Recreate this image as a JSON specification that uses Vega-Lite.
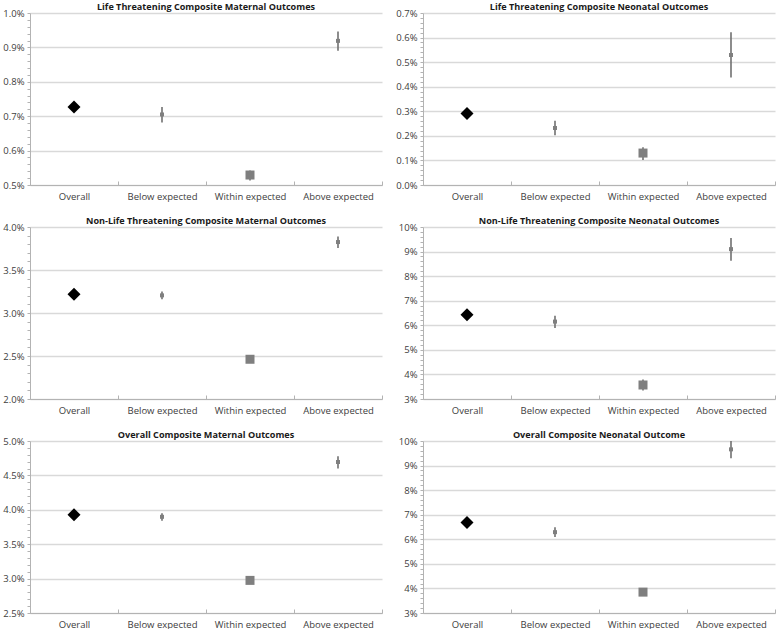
{
  "$schema": "https://vega.github.io/schema/vega-lite/v6.json",
  "background": "white",
  "padding": {"left": 2, "top": 2, "right": 0, "bottom": 0},
  "config": {
    "font": "Open Sans",
    "view": {"stroke": null},
    "concat": {"spacing": {"row": 15, "column": 12}},
    "title": {"font": "Open Sans", "fontSize": 9.1, "fontWeight": "bold", "color": "#1a1a1a", "anchor": "middle", "frame": "group", "offset": -4},
    "axis": {"labelFont": "Open Sans", "labelFontSize": 9.5, "labelColor": "#404040", "domainColor": "#b3b3b3", "tickColor": "#b3b3b3", "gridColor": "#d9d9d9", "gridWidth": 1.5, "title": null}
  },
  "data": {"values": [
    {"panel": "P1", "category": "Overall", "value": 0.727, "lo": 0.727, "hi": 0.727},
    {"panel": "P1", "category": "Below expected", "value": 0.705, "lo": 0.682, "hi": 0.727},
    {"panel": "P1", "category": "Within expected", "value": 0.529, "lo": 0.513, "hi": 0.542},
    {"panel": "P1", "category": "Above expected", "value": 0.919, "lo": 0.890, "hi": 0.946},
    {"panel": "P2", "category": "Overall", "value": 0.291, "lo": 0.291, "hi": 0.291},
    {"panel": "P2", "category": "Below expected", "value": 0.232, "lo": 0.202, "hi": 0.261},
    {"panel": "P2", "category": "Within expected", "value": 0.130, "lo": 0.102, "hi": 0.154},
    {"panel": "P2", "category": "Above expected", "value": 0.529, "lo": 0.438, "hi": 0.622},
    {"panel": "P3", "category": "Overall", "value": 3.219, "lo": 3.219, "hi": 3.219},
    {"panel": "P3", "category": "Below expected", "value": 3.205, "lo": 3.16, "hi": 3.25},
    {"panel": "P3", "category": "Within expected", "value": 2.462, "lo": 2.44, "hi": 2.48},
    {"panel": "P3", "category": "Above expected", "value": 3.825, "lo": 3.755, "hi": 3.89},
    {"panel": "P4", "category": "Overall", "value": 6.43, "lo": 6.43, "hi": 6.43},
    {"panel": "P4", "category": "Below expected", "value": 6.15, "lo": 5.89, "hi": 6.39},
    {"panel": "P4", "category": "Within expected", "value": 3.57, "lo": 3.35, "hi": 3.79},
    {"panel": "P4", "category": "Above expected", "value": 9.10, "lo": 8.63, "hi": 9.55},
    {"panel": "P5", "category": "Overall", "value": 3.927, "lo": 3.927, "hi": 3.927},
    {"panel": "P5", "category": "Below expected", "value": 3.898, "lo": 3.84, "hi": 3.95},
    {"panel": "P5", "category": "Within expected", "value": 2.974, "lo": 2.95, "hi": 3.0},
    {"panel": "P5", "category": "Above expected", "value": 4.695, "lo": 4.60, "hi": 4.78},
    {"panel": "P6", "category": "Overall", "value": 6.68, "lo": 6.68, "hi": 6.68},
    {"panel": "P6", "category": "Below expected", "value": 6.29, "lo": 6.09, "hi": 6.49},
    {"panel": "P6", "category": "Within expected", "value": 3.85, "lo": 3.78, "hi": 3.92},
    {"panel": "P6", "category": "Above expected", "value": 9.66, "lo": 9.30, "hi": 10.05}
  ]},
  "columns": 2,
  "concat": [
    {
      "title": "Life Threatening Composite Maternal Outcomes",
      "width": 352, "height": 172,
      "transform": [{"filter": "datum.panel == 'P1'"}],
      "encoding": {"x": {"field": "category", "type": "nominal", "sort": ["Overall", "Below expected", "Within expected", "Above expected"], "scale": {"paddingInner": 0, "paddingOuter": 0}, "axis": {"labelAngle": 0, "tickBand": "extent", "tickSize": -4, "labelPadding": 10, "grid": false}}},
      "layer": [
        {"transform": [{"filter": "datum.category != 'Overall'"}], "mark": {"type": "rule", "color": "#707070", "strokeWidth": 1.6, "clip": true},
         "encoding": {"y": {"field": "lo", "type": "quantitative", "scale": {"domain": [0.5, 1.0], "nice": false, "zero": false},
           "axis": {"values": [0.5,0.52,0.54,0.56,0.58,0.6,0.62,0.64,0.66,0.68,0.7,0.72,0.74,0.76,0.78,0.8,0.82,0.84,0.86,0.88,0.9,0.92,0.94,0.96,0.98,1.0], "tickCount": 500, "tickSize": 3, "labelOverlap": false, "labelPadding": 3,
             "labelExpr": "abs(datum.value*10 - round(datum.value*10)) < 0.001 ? format(datum.value, '.1f') + '%' : ''",
             "gridOpacity": {"condition": {"test": "abs(datum.value*10 - round(datum.value*10)) < 0.001", "value": 1}, "value": 0}}},
           "y2": {"field": "hi"}}},
        {"transform": [{"filter": "datum.category == 'Overall'"}], "mark": {"type": "point", "shape": "diamond", "filled": true, "color": "#000000", "opacity": 1, "size": 170}, "encoding": {"y": {"field": "value", "type": "quantitative"}}},
        {"transform": [{"filter": "datum.category == 'Within expected'"}], "mark": {"type": "point", "shape": "square", "filled": true, "color": "#7f7f7f", "opacity": 1, "size": 81}, "encoding": {"y": {"field": "value", "type": "quantitative"}}},
        {"transform": [{"filter": "datum.category == 'Below expected' || datum.category == 'Above expected'"}], "mark": {"type": "point", "shape": "square", "filled": true, "color": "#7f7f7f", "opacity": 1, "size": 16}, "encoding": {"y": {"field": "value", "type": "quantitative"}}}
      ]
    },
    {
      "title": "Life Threatening Composite Neonatal Outcomes",
      "width": 352, "height": 172,
      "transform": [{"filter": "datum.panel == 'P2'"}],
      "encoding": {"x": {"field": "category", "type": "nominal", "sort": ["Overall", "Below expected", "Within expected", "Above expected"], "scale": {"paddingInner": 0, "paddingOuter": 0}, "axis": {"labelAngle": 0, "tickBand": "extent", "tickSize": -4, "labelPadding": 10, "grid": false}}},
      "layer": [
        {"transform": [{"filter": "datum.category != 'Overall'"}], "mark": {"type": "rule", "color": "#707070", "strokeWidth": 1.6, "clip": true},
         "encoding": {"y": {"field": "lo", "type": "quantitative", "scale": {"domain": [0, 0.7], "nice": false, "zero": false},
           "axis": {"values": [0,0.02,0.04,0.06,0.08,0.1,0.12,0.14,0.16,0.18,0.2,0.22,0.24,0.26,0.28,0.3,0.32,0.34,0.36,0.38,0.4,0.42,0.44,0.46,0.48,0.5,0.52,0.54,0.56,0.58,0.6,0.62,0.64,0.66,0.68,0.7], "tickCount": 500, "tickSize": 3, "labelOverlap": false, "labelPadding": 3,
             "labelExpr": "abs(datum.value*10 - round(datum.value*10)) < 0.001 ? format(datum.value, '.1f') + '%' : ''",
             "gridOpacity": {"condition": {"test": "abs(datum.value*10 - round(datum.value*10)) < 0.001", "value": 1}, "value": 0}}},
           "y2": {"field": "hi"}}},
        {"transform": [{"filter": "datum.category == 'Overall'"}], "mark": {"type": "point", "shape": "diamond", "filled": true, "color": "#000000", "opacity": 1, "size": 170}, "encoding": {"y": {"field": "value", "type": "quantitative"}}},
        {"transform": [{"filter": "datum.category == 'Within expected'"}], "mark": {"type": "point", "shape": "square", "filled": true, "color": "#7f7f7f", "opacity": 1, "size": 81}, "encoding": {"y": {"field": "value", "type": "quantitative"}}},
        {"transform": [{"filter": "datum.category == 'Below expected' || datum.category == 'Above expected'"}], "mark": {"type": "point", "shape": "square", "filled": true, "color": "#7f7f7f", "opacity": 1, "size": 16}, "encoding": {"y": {"field": "value", "type": "quantitative"}}}
      ]
    },
    {
      "title": "Non-Life Threatening Composite Maternal Outcomes",
      "width": 352, "height": 172,
      "transform": [{"filter": "datum.panel == 'P3'"}],
      "encoding": {"x": {"field": "category", "type": "nominal", "sort": ["Overall", "Below expected", "Within expected", "Above expected"], "scale": {"paddingInner": 0, "paddingOuter": 0}, "axis": {"labelAngle": 0, "tickBand": "extent", "tickSize": -4, "labelPadding": 10, "grid": false}}},
      "layer": [
        {"transform": [{"filter": "datum.category != 'Overall'"}], "mark": {"type": "rule", "color": "#707070", "strokeWidth": 1.6, "clip": true},
         "encoding": {"y": {"field": "lo", "type": "quantitative", "scale": {"domain": [2.0, 4.0], "nice": false, "zero": false},
           "axis": {"values": [2,2.1,2.2,2.3,2.4,2.5,2.6,2.7,2.8,2.9,3,3.1,3.2,3.3,3.4,3.5,3.6,3.7,3.8,3.9,4], "tickCount": 500, "tickSize": 3, "labelOverlap": false, "labelPadding": 3,
             "labelExpr": "abs(datum.value*2 - round(datum.value*2)) < 0.001 ? format(datum.value, '.1f') + '%' : ''",
             "gridOpacity": {"condition": {"test": "abs(datum.value*2 - round(datum.value*2)) < 0.001", "value": 1}, "value": 0}}},
           "y2": {"field": "hi"}}},
        {"transform": [{"filter": "datum.category == 'Overall'"}], "mark": {"type": "point", "shape": "diamond", "filled": true, "color": "#000000", "opacity": 1, "size": 170}, "encoding": {"y": {"field": "value", "type": "quantitative"}}},
        {"transform": [{"filter": "datum.category == 'Within expected'"}], "mark": {"type": "point", "shape": "square", "filled": true, "color": "#7f7f7f", "opacity": 1, "size": 81}, "encoding": {"y": {"field": "value", "type": "quantitative"}}},
        {"transform": [{"filter": "datum.category == 'Below expected' || datum.category == 'Above expected'"}], "mark": {"type": "point", "shape": "square", "filled": true, "color": "#7f7f7f", "opacity": 1, "size": 16}, "encoding": {"y": {"field": "value", "type": "quantitative"}}}
      ]
    },
    {
      "title": "Non-Life Threatening Composite Neonatal Outcomes",
      "width": 352, "height": 172,
      "transform": [{"filter": "datum.panel == 'P4'"}],
      "encoding": {"x": {"field": "category", "type": "nominal", "sort": ["Overall", "Below expected", "Within expected", "Above expected"], "scale": {"paddingInner": 0, "paddingOuter": 0}, "axis": {"labelAngle": 0, "tickBand": "extent", "tickSize": -4, "labelPadding": 10, "grid": false}}},
      "layer": [
        {"transform": [{"filter": "datum.category != 'Overall'"}], "mark": {"type": "rule", "color": "#707070", "strokeWidth": 1.6, "clip": true},
         "encoding": {"y": {"field": "lo", "type": "quantitative", "scale": {"domain": [3, 10], "nice": false, "zero": false},
           "axis": {"values": [3,3.2,3.4,3.6,3.8,4,4.2,4.4,4.6,4.8,5,5.2,5.4,5.6,5.8,6,6.2,6.4,6.6,6.8,7,7.2,7.4,7.6,7.8,8,8.2,8.4,8.6,8.8,9,9.2,9.4,9.6,9.8,10], "tickCount": 500, "tickSize": 3, "labelOverlap": false, "labelPadding": 3,
             "labelExpr": "abs(datum.value - round(datum.value)) < 0.001 ? format(datum.value, '.0f') + '%' : ''",
             "gridOpacity": {"condition": {"test": "abs(datum.value - round(datum.value)) < 0.001", "value": 1}, "value": 0}}},
           "y2": {"field": "hi"}}},
        {"transform": [{"filter": "datum.category == 'Overall'"}], "mark": {"type": "point", "shape": "diamond", "filled": true, "color": "#000000", "opacity": 1, "size": 170}, "encoding": {"y": {"field": "value", "type": "quantitative"}}},
        {"transform": [{"filter": "datum.category == 'Within expected'"}], "mark": {"type": "point", "shape": "square", "filled": true, "color": "#7f7f7f", "opacity": 1, "size": 81}, "encoding": {"y": {"field": "value", "type": "quantitative"}}},
        {"transform": [{"filter": "datum.category == 'Below expected' || datum.category == 'Above expected'"}], "mark": {"type": "point", "shape": "square", "filled": true, "color": "#7f7f7f", "opacity": 1, "size": 16}, "encoding": {"y": {"field": "value", "type": "quantitative"}}}
      ]
    },
    {
      "title": "Overall Composite Maternal Outcomes",
      "width": 352, "height": 172,
      "transform": [{"filter": "datum.panel == 'P5'"}],
      "encoding": {"x": {"field": "category", "type": "nominal", "sort": ["Overall", "Below expected", "Within expected", "Above expected"], "scale": {"paddingInner": 0, "paddingOuter": 0}, "axis": {"labelAngle": 0, "tickBand": "extent", "tickSize": -4, "labelPadding": 10, "grid": false}}},
      "layer": [
        {"transform": [{"filter": "datum.category != 'Overall'"}], "mark": {"type": "rule", "color": "#707070", "strokeWidth": 1.6, "clip": true},
         "encoding": {"y": {"field": "lo", "type": "quantitative", "scale": {"domain": [2.5, 5.0], "nice": false, "zero": false},
           "axis": {"values": [2.5,2.6,2.7,2.8,2.9,3,3.1,3.2,3.3,3.4,3.5,3.6,3.7,3.8,3.9,4,4.1,4.2,4.3,4.4,4.5,4.6,4.7,4.8,4.9,5], "tickCount": 500, "tickSize": 3, "labelOverlap": false, "labelPadding": 3,
             "labelExpr": "abs(datum.value*2 - round(datum.value*2)) < 0.001 ? format(datum.value, '.1f') + '%' : ''",
             "gridOpacity": {"condition": {"test": "abs(datum.value*2 - round(datum.value*2)) < 0.001", "value": 1}, "value": 0}}},
           "y2": {"field": "hi"}}},
        {"transform": [{"filter": "datum.category == 'Overall'"}], "mark": {"type": "point", "shape": "diamond", "filled": true, "color": "#000000", "opacity": 1, "size": 170}, "encoding": {"y": {"field": "value", "type": "quantitative"}}},
        {"transform": [{"filter": "datum.category == 'Within expected'"}], "mark": {"type": "point", "shape": "square", "filled": true, "color": "#7f7f7f", "opacity": 1, "size": 81}, "encoding": {"y": {"field": "value", "type": "quantitative"}}},
        {"transform": [{"filter": "datum.category == 'Below expected' || datum.category == 'Above expected'"}], "mark": {"type": "point", "shape": "square", "filled": true, "color": "#7f7f7f", "opacity": 1, "size": 16}, "encoding": {"y": {"field": "value", "type": "quantitative"}}}
      ]
    },
    {
      "title": "Overall Composite Neonatal Outcome",
      "width": 352, "height": 172,
      "transform": [{"filter": "datum.panel == 'P6'"}],
      "encoding": {"x": {"field": "category", "type": "nominal", "sort": ["Overall", "Below expected", "Within expected", "Above expected"], "scale": {"paddingInner": 0, "paddingOuter": 0}, "axis": {"labelAngle": 0, "tickBand": "extent", "tickSize": -4, "labelPadding": 10, "grid": false}}},
      "layer": [
        {"transform": [{"filter": "datum.category != 'Overall'"}], "mark": {"type": "rule", "color": "#707070", "strokeWidth": 1.6, "clip": true},
         "encoding": {"y": {"field": "lo", "type": "quantitative", "scale": {"domain": [3, 10], "nice": false, "zero": false},
           "axis": {"values": [3,3.2,3.4,3.6,3.8,4,4.2,4.4,4.6,4.8,5,5.2,5.4,5.6,5.8,6,6.2,6.4,6.6,6.8,7,7.2,7.4,7.6,7.8,8,8.2,8.4,8.6,8.8,9,9.2,9.4,9.6,9.8,10], "tickCount": 500, "tickSize": 3, "labelOverlap": false, "labelPadding": 3,
             "labelExpr": "abs(datum.value - round(datum.value)) < 0.001 ? format(datum.value, '.0f') + '%' : ''",
             "gridOpacity": {"condition": {"test": "abs(datum.value - round(datum.value)) < 0.001", "value": 1}, "value": 0}}},
           "y2": {"field": "hi"}}},
        {"transform": [{"filter": "datum.category == 'Overall'"}], "mark": {"type": "point", "shape": "diamond", "filled": true, "color": "#000000", "opacity": 1, "size": 170}, "encoding": {"y": {"field": "value", "type": "quantitative"}}},
        {"transform": [{"filter": "datum.category == 'Within expected'"}], "mark": {"type": "point", "shape": "square", "filled": true, "color": "#7f7f7f", "opacity": 1, "size": 81}, "encoding": {"y": {"field": "value", "type": "quantitative"}}},
        {"transform": [{"filter": "datum.category == 'Below expected' || datum.category == 'Above expected'"}], "mark": {"type": "point", "shape": "square", "filled": true, "color": "#7f7f7f", "opacity": 1, "size": 16}, "encoding": {"y": {"field": "value", "type": "quantitative"}}}
      ]
    }
  ]
}
